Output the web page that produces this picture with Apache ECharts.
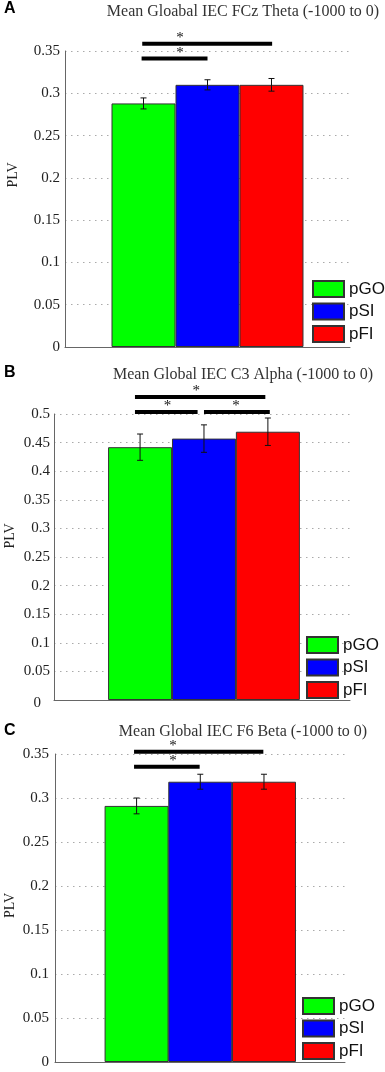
<!DOCTYPE html>
<html>
<head>
<meta charset="utf-8">
<script src="https://cdn.jsdelivr.net/npm/echarts@6/dist/echarts.min.js"></script>
<style>
  html, body { margin: 0; background: #fff; }
  #chart { width: 385px; height: 1072px; }
</style>
</head>
<body>
<div id="chart"></div>
<script>
// conditions, one bar each, at x positions 1..3
const groups = ["pGO", "pSI", "pFI"];
const groupColors = ["#00ff00", "#0000ff", "#ff0000"];
const barPos = [1, 2, 3];

const panelLetters = ["A", "B", "C"];
const titles = [
  "Mean Gloabal IEC FCz Theta (-1000 to 0)",
  "Mean Global IEC C3 Alpha (-1000 to 0)",
  "Mean Global IEC F6 Beta (-1000 to 0)",
];
const yMax = [0.35, 0.5, 0.35];
const yStep = 0.05;

// mean PLV and +/- error per panel
const meansA = [0.288, 0.310, 0.310];
const errA = [0.0065, 0.006, 0.0075];
const meansB = [0.442, 0.457, 0.469];
const errB = [0.023, 0.024, 0.024];
const meansC = [0.291, 0.3185, 0.3185];
const errC = [0.009, 0.0085, 0.0085];

// significance brackets: [from x, to x, y, star x]
const sigA = [[0.98, 3.01, 0.3586, 1.57], [0.97, 2.0, 0.341, 1.57]];
const sigB = [[0.92, 2.96, 0.5297, 1.88], [0.92, 1.9, 0.5035, 1.43], [2.0, 3.03, 0.5035, 2.5]];
const sigC = [[0.96, 2.99, 0.3526, 1.57], [0.96, 1.99, 0.3356, 1.57]];

const means = [meansA, meansB, meansC];
const errs = [errA, errB, errC];
const sigs = [sigA, sigB, sigC];

// layout of the three panels (pixels)
const layout = [
  { left: 65, right: 35, top: 51, bottom: 725, xMin: -0.227, xMax: 4.227, lgLeft: 312, lgTop: 280, tTop: 4, letTop: 1, nameGap: 45, namePad: 48, labMargin: 5 },
  { left: 54, right: 35, top: 414, bottom: 372, xMin: -0.347, xMax: 4.285, lgLeft: 306, lgTop: 636, tTop: 367, letTop: 365, nameGap: 37, namePad: 42, labMargin: 4 },
  { left: 55, right: 40, top: 754, bottom: 10, xMin: -0.281, xMax: 4.272, lgLeft: 302, lgTop: 997, tTop: 724, letTop: 723, nameGap: 38, namePad: 5, labMargin: 6 },
];

const serif = "'Liberation Serif', 'Times New Roman', serif";
const sans = "'Liberation Sans', Arial, sans-serif";

const chart = echarts.init(document.getElementById("chart"), null, { renderer: "canvas" });

const series = [];
layout.forEach((L, p) => {
  groups.forEach((g, i) => {
    series.push({
      type: "bar",
      name: g,
      xAxisIndex: p,
      yAxisIndex: p,
      data: [[barPos[i], means[p][i]]],
      barWidth: 64,
      barGap: "-100%",
      itemStyle: { color: groupColors[i], borderColor: "#333", borderWidth: 1 },
    });
  });
  series.push({
    type: "custom",
    xAxisIndex: p,
    yAxisIndex: p,
    z: 5,
    data: barPos.map((x, i) => [x, means[p][i] - errs[p][i], means[p][i] + errs[p][i]]),
    encode: { x: 0, y: [1, 2] },
    renderItem: (params, api) => {
      const lo = api.coord([api.value(0), api.value(1)]);
      const hi = api.coord([api.value(0), api.value(2)]);
      const st = { stroke: "#111", lineWidth: 1 };
      return {
        type: "group",
        children: [
          { type: "line", shape: { x1: lo[0], y1: lo[1], x2: hi[0], y2: hi[1] }, style: st },
          { type: "line", shape: { x1: lo[0] - 3, y1: lo[1], x2: lo[0] + 3, y2: lo[1] }, style: st },
          { type: "line", shape: { x1: hi[0] - 3, y1: hi[1], x2: hi[0] + 3, y2: hi[1] }, style: st },
        ],
      };
    },
  });
  series.push({
    type: "custom",
    xAxisIndex: p,
    yAxisIndex: p,
    z: 6,
    clip: false,
    data: sigs[p],
    encode: { x: [0, 1, 3], y: 2 },
    renderItem: (params, api) => {
      const a = api.coord([api.value(0), api.value(2)]);
      const b = api.coord([api.value(1), api.value(2)]);
      const s = api.coord([api.value(3), api.value(2)]);
      return {
        type: "group",
        children: [
          { type: "line", shape: { x1: a[0], y1: a[1], x2: b[0], y2: b[1] }, style: { stroke: "#000", lineWidth: 4 } },
          { type: "text", style: { text: "*", x: s[0], y: s[1] - 6, align: "center", verticalAlign: "middle", font: "15px " + serif, fill: "#111" } },
        ],
      };
    },
  });
});

chart.setOption({
  animation: false,
  title: layout.flatMap((L, p) => [
    { text: titles[p], left: 243, top: L.tTop, textAlign: "center", padding: 0,
      textStyle: { fontFamily: serif, fontWeight: "normal", fontSize: 16, color: "#333" } },
    { text: panelLetters[p], left: 4, top: L.letTop, padding: 0,
      textStyle: { fontFamily: sans, fontWeight: "bold", fontSize: 16, color: "#000" } },
  ]),
  legend: layout.map((L) => ({
    data: groups,
    orient: "vertical",
    left: L.lgLeft,
    top: L.lgTop,
    padding: 0,
    itemWidth: 31,
    itemHeight: 16,
    itemGap: 4.5,
    icon: "rect",
    selectedMode: false,
    textStyle: { fontFamily: sans, fontSize: 17, color: "#111" },
  })),
  grid: layout.map((L) => ({
    left: L.left,
    right: L.right,
    top: L.top,
    bottom: L.bottom,
    containLabel: false,
    outerBoundsMode: "none",
  })),
  xAxis: layout.map((L, p) => ({
    type: "value",
    gridIndex: p,
    min: L.xMin,
    max: L.xMax,
    axisLine: { show: true, onZero: false, lineStyle: { color: "#666", width: 1 } },
    axisTick: { show: false },
    axisLabel: { show: false },
    splitLine: { show: false },
  })),
  yAxis: layout.map((L, p) => ({
    type: "value",
    gridIndex: p,
    min: 0,
    max: yMax[p],
    interval: yStep,
    name: "PLV",
    nameLocation: "middle",
    nameGap: L.nameGap,
    nameMoveOverlap: false,
    nameTextStyle: { fontFamily: serif, fontSize: 14, color: "#222", padding: [0, 0, 0, L.namePad] },
    axisLine: { show: true, onZero: false, lineStyle: { color: "#666", width: 1 } },
    axisTick: { show: false },
    axisLabel: {
      margin: L.labMargin,
      fontFamily: serif,
      fontSize: 15,
      color: "#222",
      formatter: (v) => (p === 1 && v === 0 ? "{z|0}" : String(+v.toFixed(2))),
      rich: { z: { fontFamily: serif, fontSize: 15, color: "#222", padding: [6, 9, 0, 0] } },
    },
    splitLine: { show: true, lineStyle: { color: "#aaa", width: 1, type: [1.5, 4.5] } },
  })),
  series: series,
});
</script>
</body>
</html>
